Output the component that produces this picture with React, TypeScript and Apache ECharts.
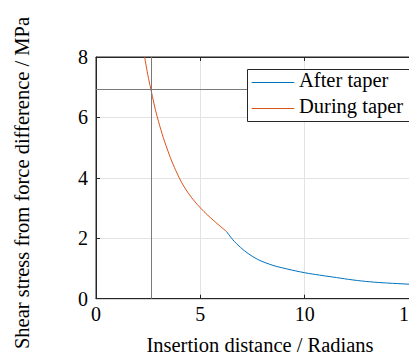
import React, { useEffect, useRef } from "react";
import * as echarts from "echarts";

const duringX = [2.33, 2.48, 2.63, 2.93, 3.43, 3.99, 4.45, 5.01, 5.65, 6.26];
const duringY = [8.0, 7.42, 6.93, 6.03, 4.92, 4.0, 3.47, 3.0, 2.58, 2.22];
const afterX = [6.26, 6.72, 7.52, 8.32, 9.12, 10.0, 10.72, 11.52, 12.32, 13.12, 13.92, 15.0, 15.4, 15.71];
const afterY = [2.22, 1.83, 1.39, 1.14, 0.99, 0.86, 0.78, 0.7, 0.62, 0.56, 0.52, 0.48, 0.46, 0.45];
const crossX = 2.64;
const crossY = 6.93;
const seriesNames = ["After taper", "During taper"];
const xTickLabels = ["0", "5", "10", "15"];
const yTickLabels = ["0", "2", "4", "6", "8"];
const xTitle = "Insertion distance / Radians";
const yTitle = "Shear stress from force difference / MPa";
const xMax = 5 * Math.PI;

const FONT = "'Liberation Serif', 'Times New Roman', serif";
const AX = "#262626";
const BLUE = "#0072BD";
const RED = "#D95319";

export default function App() {
  const ref = useRef<HTMLDivElement>(null);
  useEffect(() => {
    if (!ref.current) return;
    const chart = echarts.init(ref.current, undefined, { renderer: "svg" });
    const pxPerUnit = 20.87;
    const left = 96;
    const width = xMax * pxPerUnit;
    const axisCommon = {
      axisLine: { show: true, lineStyle: { color: AX, width: 1 } },
      axisTick: { show: true, inside: true, length: 4, lineStyle: { color: AX } },
    };
    const legendColors = [BLUE, RED];
    const legendRows = seriesNames.map((name, i) => {
      const cy = 82.5 + i * 26;
      return [
        {
          type: "line",
          shape: { x1: 251.7, y1: cy, x2: 294.3, y2: cy },
          style: { stroke: legendColors[i], lineWidth: 1 },
          z: 101,
        },
        {
          type: "text",
          x: 299,
          y: cy - 3,
          style: {
            text: name,
            font: `20.5px ${FONT}`,
            fill: "#000",
            align: "left",
            verticalAlign: "middle",
          },
          z: 101,
        },
      ];
    });
    chart.setOption({
      animation: false,
      backgroundColor: "#ffffff",
      textStyle: { fontFamily: FONT },
      grid: {
        left,
        top: 57,
        width,
        height: 241.7,
        show: true,
        borderColor: AX,
        borderWidth: 1,
        backgroundColor: "transparent",
        outerBoundsMode: "none",
        containLabel: false,
      },
      graphic: [
        {
          type: "rect",
          shape: { x: 247.5, y: 69.5, width: 164, height: 52 },
          style: { fill: "#ffffff", stroke: AX, lineWidth: 1 },
          z: 100,
        },
        ...legendRows.flat(),
        {
          type: "text",
          x: 22,
          y: 183,
          rotation: Math.PI / 2,
          style: {
            text: yTitle,
            font: `20.5px ${FONT}`,
            fill: "#000",
            align: "center",
            verticalAlign: "middle",
          },
        },
        {
          type: "text",
          x: 260,
          y: 345,
          style: {
            text: xTitle,
            font: `20.5px ${FONT}`,
            fill: "#000",
            align: "center",
            verticalAlign: "middle",
          },
        },
      ],
      xAxis: [
        {
          type: "value",
          min: 0,
          max: xMax,
          interval: 5,
          ...axisCommon,
          axisLabel: {
            fontFamily: FONT,
            fontSize: 20,
            color: "#000",
            margin: 5,
            showMaxLabel: false,
            formatter: (v: number) => {
              const s = String(Math.round(v));
              return xTickLabels.includes(s) && Math.abs(v - Math.round(v)) < 1e-6 ? s : "";
            },
          },
          splitLine: { show: true, lineStyle: { color: "#e3e3e3", width: 1 } },
        },
        {
          type: "value",
          position: "top",
          min: 0,
          max: xMax,
          interval: 5,
          ...axisCommon,
          axisLabel: { show: false },
          splitLine: { show: false },
        },
      ],
      yAxis: {
        type: "value",
        min: 0,
        max: 8,
        interval: 2,
        ...axisCommon,
        axisLabel: {
          fontFamily: FONT,
          fontSize: 20,
          color: "#000",
          margin: 8,
          formatter: (v: number) => (yTickLabels.includes(String(v)) ? String(v) : ""),
        },
        splitLine: { show: true, lineStyle: { color: "#e3e3e3", width: 1 } },
      },
      series: [
        {
          name: seriesNames[0],
          type: "line",
          data: afterX.map((x, i) => [x, afterY[i]]),
          showSymbol: false,
          symbol: "none",
          smooth: 0.4,
          lineStyle: { color: BLUE, width: 1 },
          itemStyle: { color: BLUE },
          clip: true,
          z: 3,
        },
        {
          name: seriesNames[1],
          type: "line",
          data: duringX.map((x, i) => [x, duringY[i]]),
          showSymbol: false,
          symbol: "none",
          smooth: 0.4,
          lineStyle: { color: RED, width: 1 },
          itemStyle: { color: RED },
          clip: true,
          z: 3,
          markLine: {
            silent: true,
            symbol: "none",
            label: { show: false },
            lineStyle: { color: "#7a7a7a", width: 1, type: "solid" },
            data: [{ xAxis: crossX }, { yAxis: crossY }],
          },
        },
      ],
    });
    return () => chart.dispose();
  }, []);
  return <div ref={ref} style={{ width: 417, height: 361, margin: -8 }} />;
}
